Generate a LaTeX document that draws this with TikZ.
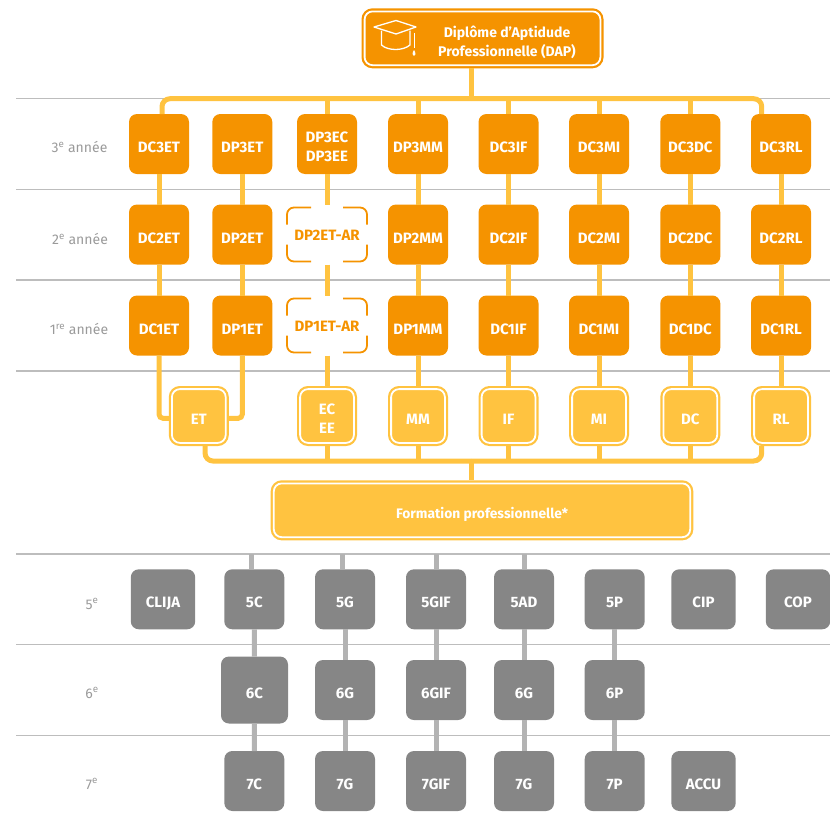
\documentclass[tikz,border=0pt]{standalone}
\usepackage{fontspec}
\setmainfont{Fira Sans}
\definecolor{dorange}{HTML}{F59300}
\definecolor{dyellow}{HTML}{FFC340}
\definecolor{dgray}{HTML}{868686}
\definecolor{dlink}{HTML}{B3B3B3}
\definecolor{drule}{HTML}{BDBDBD}
\definecolor{dlabel}{HTML}{9A9A9A}
\tikzset{
    basebox/.style={rectangle, rounded corners=8pt, inner sep=0pt, outer sep=0pt, minimum width=60pt, minimum height=60pt, text=white, align=center, font=\fontsize{15}{19}\selectfont\bfseries, text height=17pt, text depth=0pt},
    orangebox/.style={basebox, fill=dorange},
    graybox/.style={basebox, fill=dgray},
    widebox/.style={graybox, minimum width=64.4pt},
    twolines/.style={text height=34pt, text depth=0pt},
    yellowbox/.style={basebox, fill=dyellow, draw=dyellow, line width=2.2pt, double=white, double distance=1.8pt, minimum width=53.8pt, minimum height=53.8pt, outer sep=3.1pt},
    arbox/.style={basebox, text=dorange, minimum width=80pt, text height=12pt},
    arcorner/.style={draw=dorange, line width=1.8pt, rounded corners=7pt},
    yline/.style={draw=dyellow, line width=5pt},
    grayline/.style={draw=dlink, line width=5pt},
    rowline/.style={draw=drule, line width=1.2pt},
    rowlabel/.style={text=dlabel, font=\fontsize{14}{16}\selectfont},
}
\begin{document}
\begin{tikzpicture}[x=1pt, y=-1pt]
    \useasboundingbox (0,0) rectangle (830,814);

    \draw[rowline] (16,98.5) -- (830,98.5);
    \draw[rowline] (16,189.5) -- (830,189.5);
    \draw[rowline] (16,280) -- (830,280);
    \draw[rowline] (16,371) -- (830,371);
    \draw[rowline] (16,554) -- (830,554);
    \draw[rowline] (16,644.5) -- (830,644.5);
    \draw[rowline] (16,735.5) -- (830,735.5);

    \node[rowlabel] (l3) at (79.5,147) {3\textsuperscript{e} année};
    \node[rowlabel] (l2) at (80,239) {2\textsuperscript{e} année};
    \node[rowlabel] (l1) at (79,329) {1\textsuperscript{re} année};
    \node[rowlabel] (l5) at (92,604) {5\textsuperscript{e}};
    \node[rowlabel] (l6) at (92,693) {6\textsuperscript{e}};
    \node[rowlabel] (l7) at (92,784) {7\textsuperscript{e}};

    \node[yellowbox, fill=dorange, draw=dorange, minimum width=235.8pt, text height=0pt] (dap) at (482.5,38.3) {};
    \node[text=white, align=center, font=\fontsize{14}{19}\selectfont\bfseries] (daptext) at (507,42.5) {Diplôme d'Aptidude\\Professionnelle (DAP)};

    \node[orangebox] (dc3et) at (159,144) {DC3ET};
    \node[orangebox] (dp3et) at (242.3,144) {DP3ET};
    \node[orangebox, twolines] (dp3ec) at (327,144) {DP3EC\\DP3EE};
    \node[orangebox] (dp3mm) at (418,144) {DP3MM};
    \node[orangebox] (dc3if) at (508.5,144) {DC3IF};
    \node[orangebox] (dc3mi) at (599,144) {DC3MI};
    \node[orangebox] (dc3dc) at (690.3,144) {DC3DC};
    \node[orangebox] (dc3rl) at (781,144) {DC3RL};

    \node[orangebox] (dc2et) at (159,234.5) {DC2ET};
    \node[orangebox] (dp2et) at (242.3,234.5) {DP2ET};
    \node[arbox] (dp2etar) at (327,234.5) {DP2ET-AR};
    \node[orangebox] (dp2mm) at (418,234.5) {DP2MM};
    \node[orangebox] (dc2if) at (508.5,234.5) {DC2IF};
    \node[orangebox] (dc2mi) at (599,234.5) {DC2MI};
    \node[orangebox] (dc2dc) at (690.3,234.5) {DC2DC};
    \node[orangebox] (dc2rl) at (781,234.5) {DC2RL};

    \node[orangebox] (dc1et) at (159,325.5) {DC1ET};
    \node[orangebox] (dp1et) at (242.3,325.5) {DP1ET};
    \node[arbox] (dp1etar) at (327,325.5) {DP1ET-AR};
    \node[orangebox] (dp1mm) at (418,325.5) {DP1MM};
    \node[orangebox] (dc1if) at (508.5,325.5) {DC1IF};
    \node[orangebox] (dc1mi) at (599,325.5) {DC1MI};
    \node[orangebox] (dc1dc) at (690.3,325.5) {DC1DC};
    \node[orangebox] (dc1rl) at (781,325.5) {DC1RL};

    \node[yellowbox] (et) at (198.8,416) {ET};
    \node[yellowbox, twolines] (ec) at (327,416) {EC\\EE};
    \node[yellowbox] (mm) at (418,416) {MM};
    \node[yellowbox] (if) at (508.5,416) {IF};
    \node[yellowbox] (mi) at (599,416) {MI};
    \node[yellowbox] (dc) at (690.3,416) {DC};
    \node[yellowbox] (rl) at (781,416) {RL};

    \node[yellowbox, minimum width=416.4pt, font=\fontsize{13.8}{16}\selectfont\bfseries] (fp) at (482,510.3) {Formation professionnelle*};

    \node[widebox] (clija) at (163,599.3) {CLIJA};
    \node[graybox] (c5) at (254.3,599.3) {5C};
    \node[graybox] (g5) at (345,599.3) {5G};
    \node[graybox] (gif5) at (436,599.3) {5GIF};
    \node[graybox] (ad5) at (524,599.3) {5AD};
    \node[graybox] (p5) at (614.7,599.3) {5P};
    \node[widebox] (cip) at (703.5,599.3) {CIP};
    \node[widebox] (cop) at (798,599.3) {COP};

    \node[graybox, minimum width=67pt, minimum height=67pt] (c6) at (254.5,690) {6C};
    \node[graybox] (g6) at (345,690) {6G};
    \node[graybox] (gif6) at (436,690) {6GIF};
    \node[graybox] (ga6) at (524,690) {6G};
    \node[graybox] (p6) at (614.7,690) {6P};

    \node[graybox] (c7) at (254.3,781) {7C};
    \node[graybox] (g7) at (345,781) {7G};
    \node[graybox] (gif7) at (436,781) {7GIF};
    \node[graybox] (ga7) at (524,781) {7G};
    \node[graybox] (p7) at (614.7,781) {7P};
    \node[widebox] (accu) at (703.5,781) {ACCU};

    \coordinate (topbus) at (471,98.7);
    \coordinate (lowbus) at (471,461);
    \coordinate (stubc) at (251.7,554);
    \coordinate (stubg) at (342.7,554);
    \coordinate (stubgif) at (436,554);
    \coordinate (stubad) at (524,554);

    \draw[yline] (dap.south -| topbus) -- (topbus);
    \draw[yline, rounded corners=8pt] ([xshift=3pt]dc3et.north) |- (topbus);
    \draw[yline, rounded corners=8pt] ([xshift=-19.3pt]dc3rl.north) |- (topbus);
    \draw[yline] (dp3ec.north) -- (dp3ec.north |- topbus);
    \draw[yline] (dp3mm.north) -- (dp3mm.north |- topbus);
    \draw[yline] (dc3if.north) -- (dc3if.north |- topbus);
    \draw[yline] (dc3mi.north) -- (dc3mi.north |- topbus);
    \draw[yline] (dc3dc.north) -- (dc3dc.north |- topbus);

    \draw[yline] (dc3et) -- (dc2et);
    \draw[yline] (dp3et) -- (dp2et);
    \draw[yline] (dp3ec) -- (dp2etar);
    \draw[yline] (dp3mm) -- (dp2mm);
    \draw[yline] (dc3if) -- (dc2if);
    \draw[yline] (dc3mi) -- (dc2mi);
    \draw[yline] (dc3dc) -- (dc2dc);
    \draw[yline] (dc3rl) -- (dc2rl);

    \draw[yline] (dc2et) -- (dc1et);
    \draw[yline] (dp2et) -- (dp1et);
    \draw[yline] (dp2etar) -- (dp1etar);
    \draw[yline] (dp2mm) -- (dp1mm);
    \draw[yline] (dc2if) -- (dc1if);
    \draw[yline] (dc2mi) -- (dc1mi);
    \draw[yline] (dc2dc) -- (dc1dc);
    \draw[yline] (dc2rl) -- (dc1rl);

    \draw[yline, rounded corners=4pt] (dc1et) |- ([yshift=-2.3pt]et.west);
    \draw[yline, rounded corners=4pt] (dp1et) |- ([yshift=-2.3pt]et.east);
    \draw[yline] (dp1etar) -- (ec);
    \draw[yline] (dp1mm) -- (mm);
    \draw[yline] (dc1if) -- (if);
    \draw[yline] (dc1mi) -- (mi);
    \draw[yline] (dc1dc) -- (dc);
    \draw[yline] (dc1rl) -- (rl);

    \draw[yline, rounded corners=8pt] ([xshift=6.2pt]et.south) |- (lowbus);
    \draw[yline, rounded corners=8pt] ([xshift=-19.3pt]rl.south) |- (lowbus);
    \draw[yline] (ec) -- (ec |- lowbus);
    \draw[yline] (mm) -- (mm |- lowbus);
    \draw[yline] (if) -- (if |- lowbus);
    \draw[yline] (mi) -- (mi |- lowbus);
    \draw[yline] (dc) -- (dc |- lowbus);
    \draw[yline] (lowbus) -- (lowbus |- fp.north);

    \draw[grayline] (stubc) -- (stubc |- c5.north);
    \draw[grayline] (stubg) -- (stubg |- g5.north);
    \draw[grayline] (stubgif) -- (stubgif |- gif5.north);
    \draw[grayline] (stubad) -- (stubad |- ad5.north);

    \draw[grayline] (c5) -- (c6);
    \draw[grayline] (g5) -- (g6);
    \draw[grayline] (gif5) -- (gif6);
    \draw[grayline] (ad5) -- (ga6);
    \draw[grayline] (p5) -- (p6);

    \draw[grayline] (c6) -- (c7);
    \draw[grayline] (g6) -- (g7);
    \draw[grayline] (gif6) -- (gif7);
    \draw[grayline] (ga6) -- (ga7);
    \draw[grayline] (p6) -- (p7);

    \foreach \n in {dp2etar, dp1etar} {
        \draw[arcorner] ([xshift=24pt, yshift=-3pt]\n.north west) -| ([yshift=-20pt]\n.north west);
        \draw[arcorner] ([xshift=-24pt, yshift=-3pt]\n.north east) -| ([yshift=-20pt]\n.north east);
        \draw[arcorner] ([xshift=24pt, yshift=3pt]\n.south west) -| ([yshift=20pt]\n.south west);
        \draw[arcorner] ([xshift=-24pt, yshift=3pt]\n.south east) -| ([yshift=20pt]\n.south east);
    }

    \draw[white, line width=1.3pt, line join=round] (374,27) -- (396,20.5) -- (416,27) -- (396,34) -- cycle;
    \draw[white, line width=1.3pt] (381.5,30.5) -- (381.5,45) .. controls (388,51) and (403,51) .. (410,45) -- (410,30.5);
    \draw[white, line width=1pt] (414,33) -- (414,48);
    \fill[white] (414,50) .. controls (412,53) and (412,56) .. (414,56) .. controls (416,56) and (416,53) .. (414,50);
\end{tikzpicture}
\end{document}
